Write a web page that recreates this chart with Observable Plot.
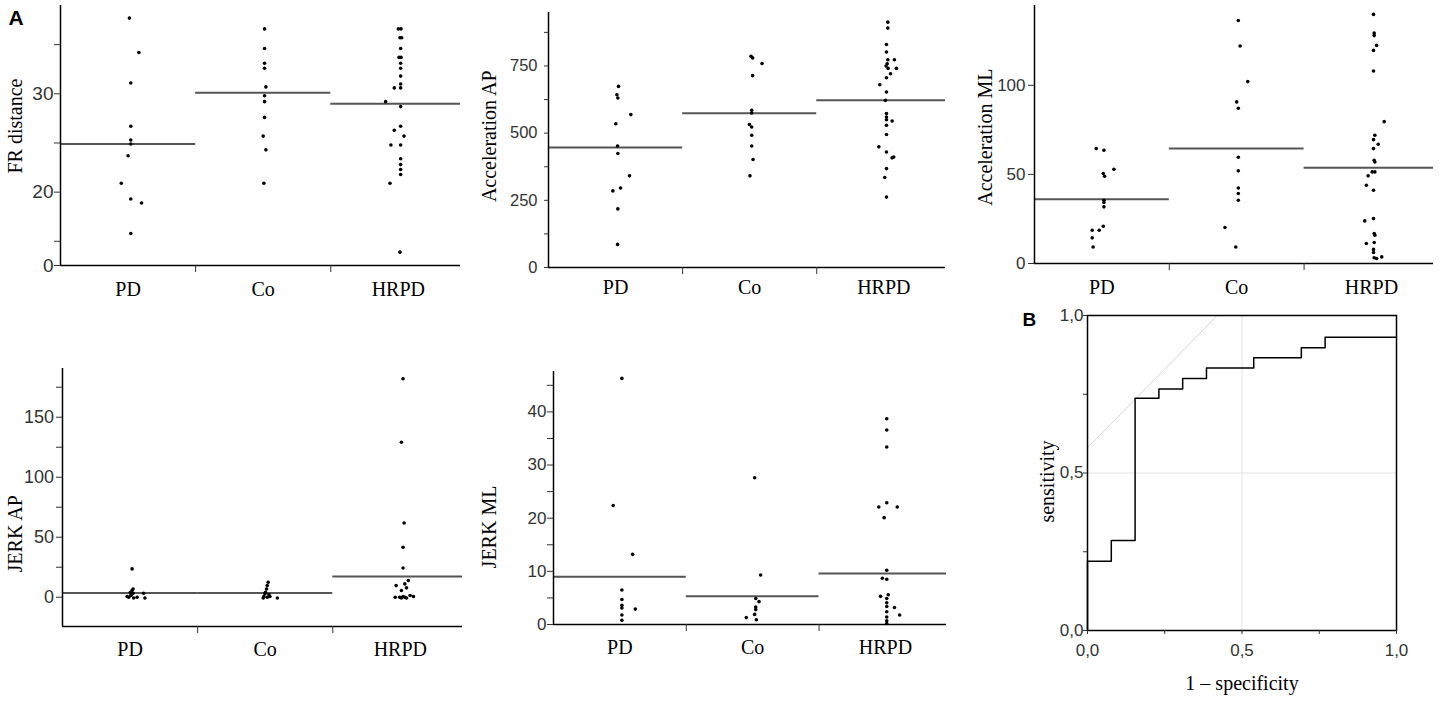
<!DOCTYPE html>
<html><head><meta charset="utf-8">
<script src="https://cdn.jsdelivr.net/npm/d3@7"></script>
<script src="https://cdn.jsdelivr.net/npm/@observablehq/plot@0.6"></script>
<style>
body{margin:0;background:#fff;}
#wrap{position:relative;width:1439px;height:702px;overflow:hidden;background:#fff;}
.panel{position:absolute;}
</style></head><body><div id="wrap"></div>
<script>
const groups = ["PD", "Co", "HRPD"];

// FR distance
const frPD = [37.7, 34.2, 31.1, 26.7, 25.3, 24.9, 23.7, 20.9, 19.3, 18.9, 15.8];
const frPDjit = [0.01, 0.08, 0.02, 0.02, 0.02, 0.02, 0.0, -0.05, 0.02, 0.1, 0.02];
const frCo = [36.6, 34.6, 33.1, 32.6, 30.7, 29.8, 29.2, 27.6, 25.7, 24.3, 20.9];
const frCojit = [0.01, 0.01, 0.01, 0.01, 0.02, 0.01, 0.01, 0.01, 0, 0.02, 0.005];
const frHR = [36.6, 36.6, 35.7, 35.7, 34.6, 33.7, 33.7, 33.1, 32.6, 31.8, 31.0, 30.6, 30.6, 29.2, 28.7, 26.7, 26.3, 25.7, 24.8, 24.8, 23.4, 22.8, 22.3, 21.8, 20.9, 13.9];
const frHRjit = [0, 0.02, 0.012, 0.025, 0.017, 0.005, 0.02, 0.017, 0.017, 0.017, 0.017, -0.03, 0.017, -0.094, 0.017, 0.017, -0.03, 0.042, -0.055, 0.017, 0.017, 0.017, 0.017, 0.017, -0.062, 0.012];
const frMeans = [24.9, 30.1, 29.0];

// Acceleration AP
const apPD = [674, 643, 631, 569, 535, 452, 424, 341, 296, 285, 218, 86];
const apPDjit = [0.022, 0.01, 0.017, 0.114, 0.002, 0.015, 0.017, 0.104, 0.037, -0.02, 0.017, 0.015];
const apCo = [786, 780, 759, 714, 585, 575, 532, 523, 492, 452, 402, 341];
const apCojit = [0.01, 0.022, 0.092, 0.022, 0.015, 0.015, -0.002, 0.015, 0.015, 0.015, 0.025, 0.002];
const apHR = [913, 891, 830, 802, 773, 773, 758, 750, 741, 741, 721, 706, 680, 653, 622, 573, 560, 550, 545, 529, 495, 449, 430, 411, 408, 368, 335, 262];
const apHRjit = [0.03, 0.03, 0.02, 0.02, 0.03, 0.079, 0.025, 0.017, 0.032, 0.094, 0.05, 0.02, -0.03, 0.02, 0.012, 0.02, 0.02, 0.02, 0.062, 0.02, 0.02, -0.037, 0.02, 0.074, 0.062, 0.02, 0.007, 0.02];
const apMeans = [447, 574, 622];

// Acceleration ML
const mlPD = [64.5, 63.6, 52.9, 50.5, 49.0, 35.5, 34.2, 31.8, 20.9, 18.7, 18.7, 14.4, 9.3];
const mlPDjit = [-0.042, 0.015, 0.089, 0.01, 0.02, 0.015, 0.015, 0.015, 0.01, -0.02, -0.072, -0.072, -0.065];
const mlCo = [136.4, 122.1, 102.1, 90.7, 87.1, 59.6, 52.0, 42.4, 39.3, 35.5, 20.2, 9.3];
const mlCojit = [0.012, 0.025, 0.082, 0, 0.012, 0.012, 0.012, 0.012, 0.012, 0.012, -0.087, -0.007];
const mlHR = [139.8, 129.3, 127.9, 122.4, 119.6, 108.0, 79.6, 72.0, 69.5, 66.9, 64.5, 57.9, 57.0, 51.4, 51.4, 49.2, 43.9, 41.1, 25.2, 23.9, 16.8, 15.9, 11.8, 11.2, 7.9, 6.2, 3.7, 3.2, 2.8];
const mlHRjit = [0.015, 0.02, 0.02, 0.038, 0.015, 0.015, 0.094, 0.025, 0.015, 0.05, 0.015, 0.02, 0.025, 0.005, 0.025, -0.025, -0.038, 0.015, 0.015, -0.05, 0.02, 0.025, 0.02, -0.038, 0.015, 0.015, 0.076, 0.02, 0.038];
const mlMeans = [36.1, 64.5, 53.8];

// JERK AP
const jaPD = [23.6, 6.9, 5.6, 4.2, 3.3, 3.3, 2.0, 1.4, 0.6, 0.0, 0.0, -0.6, -0.6];
const jaPDjit = [0.015, 0.022, 0.015, 0.002, 0.022, 0.1, 0.007, 0.007, -0.022, -0.01, 0.052, 0.027, 0.11];
const jaCo = [12.5, 9.7, 6.9, 4.2, 2.8, 2.2, 0.6, 0.6, 0.0, -0.6, -0.6];
const jaCojit = [0.022, 0.015, 0.01, 0.002, -0.002, 0.027, -0.01, 0.035, 0.015, -0.015, 0.09];
const jaHR = [182, 129.2, 61.9, 41.7, 24.4, 13.9, 11.1, 9.7, 7.8, 5.6, 1.4, 0.6, 0.6, 0, 0, 0, -0.6, -0.6];
const jaHRjit = [0.02, 0.008, 0.028, 0.02, 0.02, 0.059, 0.033, -0.031, 0.046, 0.008, 0.072, 0.02, 0.097, -0.038, -0.005, 0.033, 0.046, 0.008];
const jaMeans = [3.6, 3.6, 17.2];

// JERK ML
const jmPD = [46.3, 22.4, 13.2, 6.5, 4.7, 3.6, 3.1, 2.9, 1.8, 0.8];
const jmPDjit = [0.015, -0.05, 0.096, 0.015, 0.015, 0.015, 0.015, 0.116, 0.015, 0.015];
const jmCo = [27.6, 9.3, 4.9, 4.3, 3.3, 2.8, 1.9, 1.3, 0.9];
const jmCojit = [0.015, 0.06, 0.023, 0.048, 0.023, 0.023, 0.015, -0.048, 0.028];
const jmHR = [38.7, 36.6, 33.4, 22.9, 22.1, 22.1, 20.1, 10.2, 8.7, 8.5, 5.6, 5.3, 4.9, 4.1, 3.4, 3.2, 2.4, 1.8, 1.4, 0.7, 0.2];
const jmHRjit = [0.01, 0.01, 0.01, 0.01, -0.05, 0.089, -0.01, 0.01, -0.023, 0.01, 0.021, -0.037, 0.01, 0.01, 0.01, 0.068, 0.01, 0.107, 0.01, 0.01, 0.01];
const jmMeans = [9.0, 5.3, 9.6];

// ROC curve
const rocFPR = [0, 0.077, 0.154, 0.231, 0.308, 0.385, 0.538, 0.692, 0.769, 1.0];
const rocTPR = [0, 0.22, 0.286, 0.737, 0.767, 0.8, 0.833, 0.866, 0.898, 0.931];
const refX = [0, 0.42];
const refY = [0.58, 1.0];
const rocTicks = [0, 0.25, 0.5, 0.75, 1];

const SERIF = "Liberation Serif, Times New Roman, serif";
const SANS = "Liberation Sans, Arial, sans-serif";
const XMAX = 2.46;

function label(text, opts) {
  return Plot.text([text], {text: d => d, textAnchor: "middle", lineAnchor: "middle", fill: "black", fontSize: 20, fontFamily: SERIF, ...opts});
}

function scatterPanel(cfg) {
  const rows = [];
  cfg.values.forEach((vals, g) => vals.forEach((v, k) => rows.push({g, v, j: cfg.jit[g][k]})));
  const meanRows = cfg.means.map((m, g) => ({g, m}));
  const marks = [
    Plot.ruleY(meanRows, {y: "m", x1: d => d.g - 0.5, x2: d => Math.min(d.g + 0.5, XMAX), stroke: "#555", strokeWidth: 2}),
    Plot.dot(rows, {x: d => d.g + d.j, y: "v", r: 1.8, fill: "black"}),
    Plot.ruleX([-0.5], {stroke: "black", strokeWidth: 1.5}),
    Plot.ruleY([cfg.domain[0]], {stroke: "black", strokeWidth: 1.5}),
    Plot.axisY({ticks: cfg.ticks, tickFormat: cfg.fmt, tickSize: cfg.ts, tickPadding: cfg.tp, fontSize: cfg.fs, fontFamily: SANS, label: null}),
    Plot.axisX({ticks: [0.5, 1.5], tickFormat: () => "", tickSize: 7, label: null}),
    Plot.text(groups, {x: (d, i) => i, frameAnchor: "bottom", dy: cfg.catDy, text: d => d, textAnchor: "middle", lineAnchor: "middle", fontSize: 20, fontFamily: SERIF, fill: "black"}),
    label(cfg.label, {frameAnchor: "left", rotate: -90, dx: cfg.ldx, dy: cfg.ldy})
  ];
  if (cfg.tag) marks.push(label(cfg.tag, {frameAnchor: "top-left", dx: cfg.tagDx, dy: cfg.tagDy, textAnchor: "start", fontSize: 21, fontWeight: "bold", fontFamily: SANS}));
  return Plot.plot({
    width: cfg.w, height: cfg.h,
    marginLeft: cfg.ml, marginRight: cfg.mr, marginTop: cfg.mt, marginBottom: cfg.mb,
    x: {domain: [-0.5, XMAX]},
    y: {domain: cfg.domain},
    style: {color: "#333", background: "transparent", overflow: "visible"},
    marks
  });
}

const panels = [
  {left: 0, top: 0, w: 470, h: 310, ml: 60, mr: 10, mt: 5, mb: 45,
   values: [frPD, frCo, frHR], jit: [frPDjit, frCojit, frHRjit], means: frMeans,
   domain: [12.54, 38.98], ticks: [12.54, 15, 20, 25, 30, 35],
   fmt: d => (d === 20 || d === 30) ? String(d) : (d < 13 ? "0" : ""),
   ts: 6, tp: 1, fs: 19, label: "FR distance", ldx: -44.7, ldy: -9.5, catDy: 24,
   tag: "A", tagDx: -52, tagDy: 12.3},
  {left: 470, top: 0, w: 480, h: 310, ml: 78, mr: 5, mt: 12, mb: 43,
   values: [apPD, apCo, apHR], jit: [apPDjit, apCojit, apHRjit], means: apMeans,
   domain: [0, 949], ticks: [0, 125, 250, 375, 500, 625, 750, 875],
   fmt: d => d % 250 === 0 ? String(d) : "",
   ts: 4, tp: 7, fs: 16.5, label: "Acceleration AP", ldx: -59.4, ldy: -3.7, catDy: 20.5},
  {left: 950, top: 0, w: 489, h: 310, ml: 84, mr: 6, mt: 5, mb: 47,
   values: [mlPD, mlCo, mlHR], jit: [mlPDjit, mlCojit, mlHRjit], means: mlMeans,
   domain: [0, 144.8], ticks: [0, 50, 100],
   fmt: d => String(d),
   ts: 6, tp: 3, fs: 17, label: "Acceleration ML", ldx: -48.7, ldy: 2.7, catDy: 24.3},
  {left: 0, top: 340, w: 470, h: 330, ml: 62, mr: 8, mt: 28, mb: 44,
   values: [jaPD, jaCo, jaHR], jit: [jaPDjit, jaCojit, jaHRjit], means: jaMeans,
   domain: [-24.4, 190.6], ticks: [0, 25, 50, 75, 100, 125, 150, 175],
   fmt: d => d % 50 === 0 ? String(d) : "",
   ts: 6, tp: 2.5, fs: 18, label: "JERK AP", ldx: -46.7, ldy: 36.3, catDy: 23},
  {left: 470, top: 340, w: 480, h: 330, ml: 83, mr: 4, mt: 31, mb: 46,
   values: [jmPD, jmCo, jmHR], jit: [jmPDjit, jmCojit, jmHRjit], means: jmMeans,
   domain: [0, 47.6], ticks: [0, 5, 10, 15, 20, 25, 30, 35, 40, 45],
   fmt: d => d % 10 === 0 ? String(d) : "",
   ts: 6, tp: 1, fs: 17, label: "JERK ML", ldx: -64.4, ldy: 29, catDy: 23.5}
];

const wrap = document.getElementById("wrap");
function place(node, left, top) {
  const div = document.createElement("div");
  div.className = "panel";
  div.style.left = left + "px";
  div.style.top = top + "px";
  div.appendChild(node);
  wrap.appendChild(div);
}
panels.forEach(p => place(scatterPanel(p), p.left, p.top));

// ROC panel
const rocRows = rocFPR.map((x, i) => ({x, y: rocTPR[i]}));
const refRows = refX.map((x, i) => ({x, y: refY[i]}));
const rocFmt = d => (d === 0 || d === 0.5 || d === 1) ? d.toFixed(1).replace(".", ",") : "";
const roc = Plot.plot({
  width: 439, height: 402, marginLeft: 87, marginRight: 43, marginTop: 15, marginBottom: 72,
  x: {domain: [0, 1]}, y: {domain: [0, 1]},
  style: {color: "#333", background: "transparent", overflow: "visible"},
  marks: [
    Plot.ruleX([0.5], {stroke: "#e4e4e4", strokeWidth: 1}),
    Plot.ruleY([0.5], {stroke: "#e4e4e4", strokeWidth: 1}),
    Plot.line(refRows, {x: "x", y: "y", stroke: "#d6d6d6", strokeWidth: 1}),
    Plot.line(rocRows, {x: "x", y: "y", curve: "step-before", stroke: "black", strokeWidth: 1.5}),
    Plot.frame({stroke: "black", strokeWidth: 1.5}),
    Plot.axisX({ticks: rocTicks, tickFormat: rocFmt, tickSize: 4, tickPadding: 9, fontSize: 17, fontFamily: SANS, label: null}),
    Plot.axisY({ticks: rocTicks, tickFormat: rocFmt, tickSize: 4, tickPadding: 0, fontSize: 17, fontFamily: SANS, label: null}),
    label("sensitivity", {frameAnchor: "left", rotate: -90, dx: -40.4, dy: 8.5}),
    label("1 \u2013 specificity", {frameAnchor: "bottom", dy: 52.6}),
    label("B", {frameAnchor: "top-left", dx: -65, dy: 4.9, textAnchor: "start", fontSize: 19, fontWeight: "bold", fontFamily: SANS})
  ]
});
place(roc, 1000, 300);
</script>
</body></html>
